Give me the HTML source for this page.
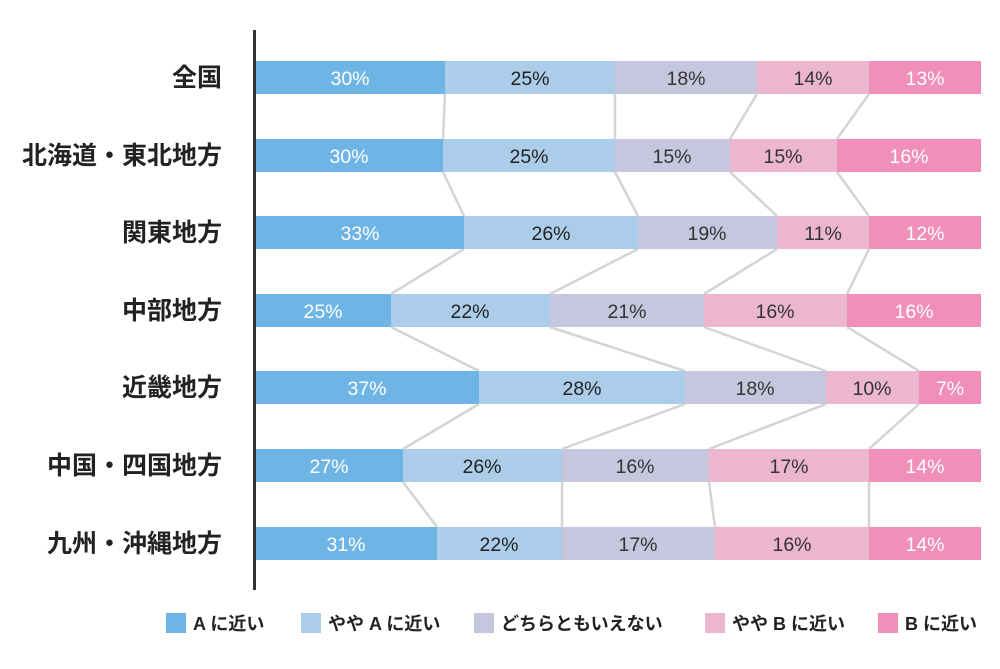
<!DOCTYPE html>
<html><head><meta charset="utf-8"><style>
body{margin:0;background:#fff}
svg{display:block;font-family:"Liberation Sans","Noto Sans CJK JP",sans-serif}
</style></head><body>
<svg width="1000" height="669" xmlns="http://www.w3.org/2000/svg">
<g stroke="#d4d4d4" stroke-width="2.5" fill="none">
<path d="M445 94L443 139M615 94L615 139M757 94L730 139M869 94L837 139"/>
<path d="M443 172L464 216M615 172L638 216M730 172L777 216M837 172L869 216"/>
<path d="M464 249L391 294M638 249L550 294M777 249L704 294M869 249L847 294"/>
<path d="M391 327L479 371M550 327L685 371M704 327L826 371M847 327L919 371"/>
<path d="M479 404L403 449M685 404L562 449M826 404L709 449M919 404L869 449"/>
<path d="M403 482L437 527M562 482L562 527M709 482L715 527M869 482L869 527"/>
</g>
<g font-size="19.5" text-anchor="middle">
<g transform="translate(0,61)">
<rect x="256" width="189" height="33" fill="#6eb5e5"/><rect x="445" width="170" height="33" fill="#abcde9"/><rect x="615" width="142" height="33" fill="#c6c7de"/><rect x="757" width="112" height="33" fill="#ecb6cf"/><rect x="869" width="112" height="33" fill="#f08fba"/>
<text x="350" y="24" fill="#fff">30%</text><text x="530" y="24" fill="#222">25%</text><text x="686" y="24" fill="#333">18%</text><text x="813" y="24" fill="#333">14%</text><text x="925" y="24" fill="#fff">13%</text></g>
<g transform="translate(0,139)">
<rect x="256" width="187" height="33" fill="#6eb5e5"/><rect x="443" width="172" height="33" fill="#abcde9"/><rect x="615" width="115" height="33" fill="#c6c7de"/><rect x="730" width="107" height="33" fill="#ecb6cf"/><rect x="837" width="144" height="33" fill="#f08fba"/>
<text x="349" y="24" fill="#fff">30%</text><text x="529" y="24" fill="#222">25%</text><text x="672" y="24" fill="#333">15%</text><text x="783" y="24" fill="#333">15%</text><text x="909" y="24" fill="#fff">16%</text></g>
<g transform="translate(0,216)">
<rect x="256" width="208" height="33" fill="#6eb5e5"/><rect x="464" width="174" height="33" fill="#abcde9"/><rect x="638" width="139" height="33" fill="#c6c7de"/><rect x="777" width="92" height="33" fill="#ecb6cf"/><rect x="869" width="112" height="33" fill="#f08fba"/>
<text x="360" y="24" fill="#fff">33%</text><text x="551" y="24" fill="#222">26%</text><text x="707" y="24" fill="#333">19%</text><text x="823" y="24" fill="#333">11%</text><text x="925" y="24" fill="#fff">12%</text></g>
<g transform="translate(0,294)">
<rect x="256" width="135" height="33" fill="#6eb5e5"/><rect x="391" width="159" height="33" fill="#abcde9"/><rect x="550" width="154" height="33" fill="#c6c7de"/><rect x="704" width="143" height="33" fill="#ecb6cf"/><rect x="847" width="134" height="33" fill="#f08fba"/>
<text x="323" y="24" fill="#fff">25%</text><text x="470" y="24" fill="#222">22%</text><text x="627" y="24" fill="#333">21%</text><text x="775" y="24" fill="#333">16%</text><text x="914" y="24" fill="#fff">16%</text></g>
<g transform="translate(0,371)">
<rect x="256" width="223" height="33" fill="#6eb5e5"/><rect x="479" width="206" height="33" fill="#abcde9"/><rect x="685" width="141" height="33" fill="#c6c7de"/><rect x="826" width="93" height="33" fill="#ecb6cf"/><rect x="919" width="62" height="33" fill="#f08fba"/>
<text x="367" y="24" fill="#fff">37%</text><text x="582" y="24" fill="#222">28%</text><text x="755" y="24" fill="#333">18%</text><text x="872" y="24" fill="#333">10%</text><text x="950" y="24" fill="#fff">7%</text></g>
<g transform="translate(0,449)">
<rect x="256" width="147" height="33" fill="#6eb5e5"/><rect x="403" width="159" height="33" fill="#abcde9"/><rect x="562" width="147" height="33" fill="#c6c7de"/><rect x="709" width="160" height="33" fill="#ecb6cf"/><rect x="869" width="112" height="33" fill="#f08fba"/>
<text x="329" y="24" fill="#fff">27%</text><text x="482" y="24" fill="#222">26%</text><text x="635" y="24" fill="#333">16%</text><text x="789" y="24" fill="#333">17%</text><text x="925" y="24" fill="#fff">14%</text></g>
<g transform="translate(0,527)">
<rect x="256" width="181" height="33" fill="#6eb5e5"/><rect x="437" width="125" height="33" fill="#abcde9"/><rect x="562" width="153" height="33" fill="#c6c7de"/><rect x="715" width="154" height="33" fill="#ecb6cf"/><rect x="869" width="112" height="33" fill="#f08fba"/>
<text x="346" y="24" fill="#fff">31%</text><text x="499" y="24" fill="#222">22%</text><text x="638" y="24" fill="#333">17%</text><text x="792" y="24" fill="#333">16%</text><text x="925" y="24" fill="#fff">14%</text></g>
</g>
<rect x="253" y="30" width="3" height="560" fill="#333"/>
<g font-size="25" font-weight="bold" text-anchor="end" fill="#222">
<text x="222" y="86">全国</text>
<text x="222" y="164">北海道・東北地方</text>
<text x="222" y="241">関東地方</text>
<text x="222" y="319">中部地方</text>
<text x="222" y="396">近畿地方</text>
<text x="222" y="474">中国・四国地方</text>
<text x="222" y="552">九州・沖縄地方</text>
</g>
<g font-size="18" font-weight="bold" fill="#222">
<rect x="166" y="613" width="20" height="20" fill="#6eb5e5"/><text x="193" y="630">A に近い</text>
<rect x="301" y="613" width="20" height="20" fill="#abcde9"/><text x="328" y="630">やや A に近い</text>
<rect x="474" y="613" width="20" height="20" fill="#c6c7de"/><text x="501" y="630">どちらともいえない</text>
<rect x="705" y="613" width="20" height="20" fill="#ecb6cf"/><text x="732" y="630">やや B に近い</text>
<rect x="878" y="613" width="20" height="20" fill="#f08fba"/><text x="905" y="630">B に近い</text>
</g>
</svg>
</body></html>
